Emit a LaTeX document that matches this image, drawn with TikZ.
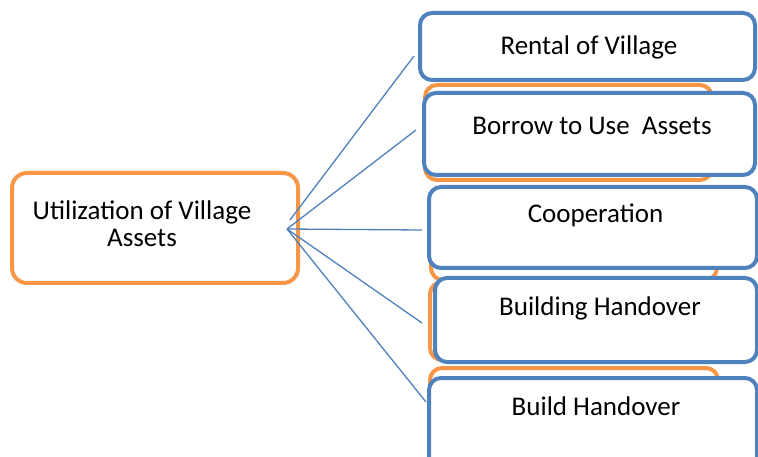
\documentclass[tikz,border=0pt]{standalone}
\usepackage{fontspec}
\setmainfont{Carlito}
\definecolor{boxblue}{HTML}{4F81BD}
\definecolor{boxorange}{HTML}{F79646}
\tikzstyle{bluebox}=[draw=boxblue,fill=white,line width=4pt,rounded corners=12pt,inner sep=0pt]
\tikzstyle{orangebox}=[draw=boxorange,fill=white,line width=4pt,rounded corners=12pt,inner sep=0pt]
\tikzstyle{boxtext}=[anchor=base,inner sep=0pt,font=\fontsize{27}{27}\selectfont]
\tikzstyle{link}=[draw=boxblue,line width=1.3pt]

\begin{document}
\begin{tikzpicture}[x=1pt,y=-1pt]
\useasboundingbox (0,0) rectangle (758,457);
% left box
\node[orangebox,rounded corners=15pt,minimum width=286pt,minimum height=110pt] (util) at (155,228) {};
\node[boxtext] (utiltext) at (142,220) {Utilization of Village};
\node[boxtext] (utiltext2) at (142,247) {Assets};
% orange boxes behind
\node[orangebox,minimum width=287pt,minimum height=95pt] (backA) at (568.5,132.5) {};
\node[orangebox,minimum width=286pt,minimum height=92pt] (backB) at (574,234) {};
\node[orangebox,minimum width=285pt,minimum height=78pt] (backC) at (572.5,321) {};
\node[orangebox,minimum width=288pt,minimum height=102pt] (backD) at (574,419) {};
% blue boxes
\node[bluebox,minimum width=335pt,minimum height=67pt] (rental) at (587.5,46.5) {};
\node[bluebox,minimum width=331pt,minimum height=82pt] (borrow) at (589.5,134) {};
\node[bluebox,minimum width=328pt,minimum height=81pt] (coop) at (593,227.5) {};
\node[bluebox,minimum width=322pt,minimum height=84pt] (building) at (596,320) {};
\node[bluebox,minimum width=328pt,minimum height=92pt] (build) at (593,424) {};
\node[boxtext] (rentaltext) at (589,55) {Rental of Village};
\node[boxtext] (borrowtext) at (592,135) {Borrow to Use\ \ Assets};
\node[boxtext] (cooptext) at (595.5,223) {Cooperation};
\node[boxtext] (buildingtext) at (600,315) {Building Handover};
\node[boxtext] (buildtext) at (596,415) {Build Handover};
% connectors
\coordinate (hub) at (287,229);
\coordinate (hubtop) at (290,220);
\coordinate (endrental) at (414,56);
\coordinate (endborrow) at (416,130);
\coordinate (endcoop) at (422,230);
\coordinate (endbuilding) at (422,323);
\coordinate (endbuild) at (426,402);
\draw[link] (hubtop)--(endrental);
\draw[link] (hub)--(endborrow);
\draw[link] (hub)--(endcoop);
\draw[link] (hub)--(endbuilding);
\draw[link] (hub)--(endbuild);
\end{tikzpicture}
\end{document}
